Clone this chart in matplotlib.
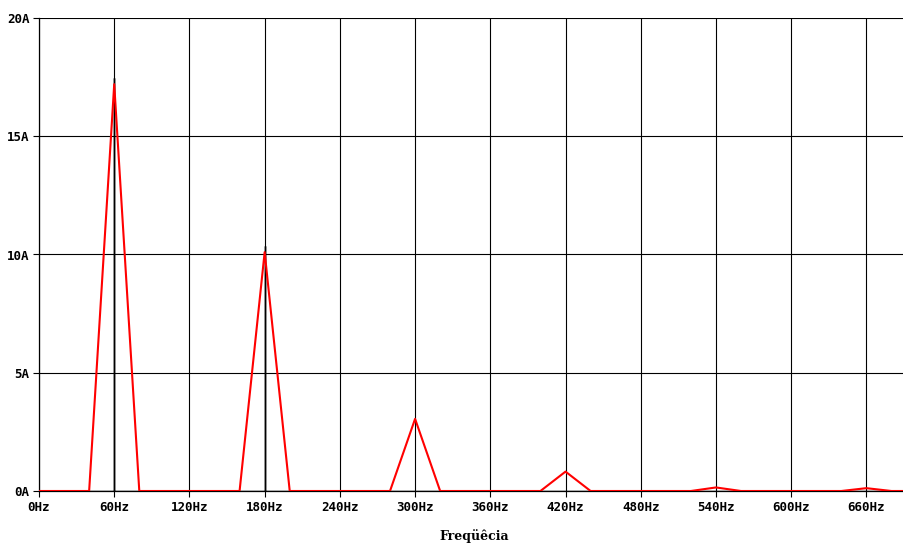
import matplotlib
matplotlib.use("Agg")
import matplotlib.pyplot as plt

# Harmonic spectrum sampled every 20 Hz (red trace)
freq_hz = [0, 20, 40, 60, 80, 100, 120, 140, 160, 180, 200, 220, 240, 260, 280,
           300, 320, 340, 360, 380, 400, 420, 440, 460, 480, 500, 520, 540, 560,
           580, 600, 620, 640, 660, 680, 700]
amp_a = [0, 0, 0, 17.2, 0, 0, 0, 0, 0, 10.1, 0, 0, 0, 0, 0,
         3.05, 0, 0, 0, 0, 0, 0.82, 0, 0, 0, 0, 0, 0.15, 0,
         0, 0, 0, 0, 0.12, 0, 0]

# Fine-resolution peaks (black trace)
fine_hz = [0, 60, 60, 60, 180, 180, 180, 700]
fine_a = [0, 0, 17.45, 0, 0, 10.35, 0, 0]

x_ticks = [0, 60, 120, 180, 240, 300, 360, 420, 480, 540, 600, 660]
x_labels = ["0Hz", "60Hz", "120Hz", "180Hz", "240Hz", "300Hz", "360Hz",
            "420Hz", "480Hz", "540Hz", "600Hz", "660Hz"]
y_ticks = [0, 5, 10, 15, 20]
y_labels = ["0A", "5A", "10A", "15A", "20A"]

fig = plt.figure(figsize=(9.04, 5.43), dpi=100)
ax = fig.add_axes([39 / 904, 1 - 491 / 543, 865 / 904, (491 - 18) / 543])

ax.plot(fine_hz, fine_a, color="black", lw=1.0, zorder=2)
ax.plot(freq_hz, amp_a, color="#ff0000", lw=1.5, zorder=3)

ax.set_xlim(0, 690)
ax.set_ylim(0, 20)
ax.set_xticks(x_ticks)
ax.set_xticklabels(x_labels)
ax.set_yticks(y_ticks)
ax.set_yticklabels(y_labels)
ax.grid(True, color="black", lw=0.8, zorder=1)
ax.set_axisbelow(True)

for s in ["top", "right"]:
    ax.spines[s].set_visible(False)
for s in ["left", "bottom"]:
    ax.spines[s].set_linewidth(0.9)

ax.tick_params(axis="both", direction="out", length=4, width=0.8, pad=3,
               labelsize=9)
for lab in ax.get_xticklabels() + ax.get_yticklabels():
    lab.set_fontfamily("DejaVu Sans Mono")
    lab.set_fontweight("bold")

fig.text(474 / 904, 1 - 536 / 543, "Freqüêcia", ha="center", va="center",
         fontfamily="DejaVu Serif", fontweight="bold", fontsize=9)

fig.savefig("out.png", dpi=100, facecolor="white")
